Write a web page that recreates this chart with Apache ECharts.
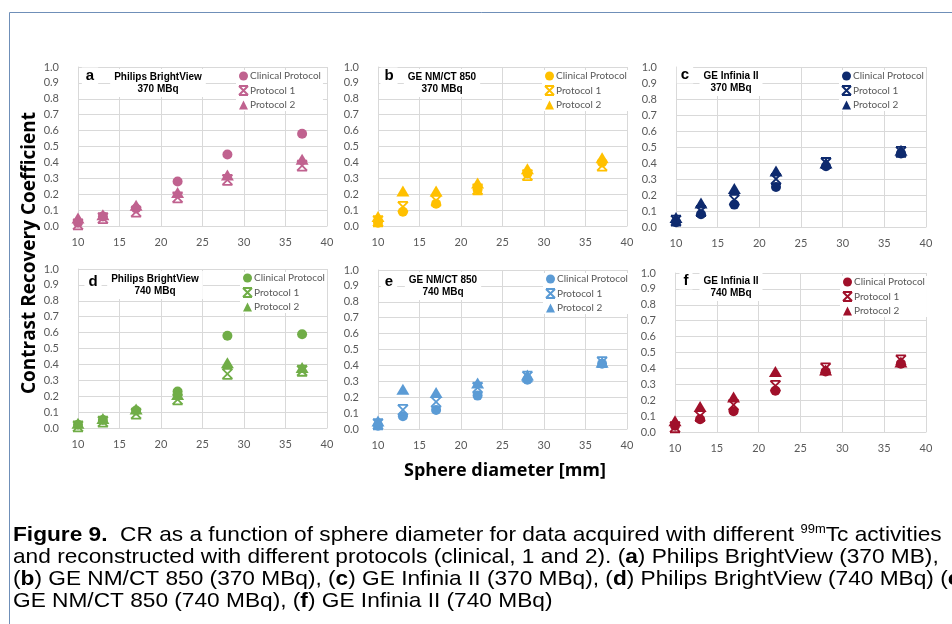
<!DOCTYPE html>
<html>
<head>
<meta charset="utf-8">
<script src="https://cdn.jsdelivr.net/npm/echarts@6/dist/echarts.min.js"></script>
<style>
  html, body { margin: 0; padding: 0; background: #fff; }
  #chart { width: 952px; height: 624px; }
</style>
</head>
<body>
<div id="chart"></div>
<script>
// sphere diameters (mm) shared by every panel
const diameters = [10, 13, 17, 22, 28, 37];
const protocols = ['Clinical Protocol', 'Protocol 1', 'Protocol 2'];

// contrast recovery coefficient
const aClinical = [0.02, 0.06, 0.11, 0.28, 0.45, 0.58];
const aProt1    = [0.01, 0.05, 0.09, 0.18, 0.29, 0.38];
const aProt2    = [0.05, 0.07, 0.13, 0.21, 0.32, 0.42];
const bClinical = [0.02, 0.09, 0.14, 0.23, 0.33, 0.40];
const bProt1    = [0.03, 0.12, 0.16, 0.23, 0.32, 0.38];
const bProt2    = [0.06, 0.22, 0.22, 0.27, 0.36, 0.43];
const cClinical = [0.03, 0.08, 0.14, 0.25, 0.38, 0.46];
const cProt1    = [0.04, 0.10, 0.17, 0.30, 0.40, 0.47];
const cProt2    = [0.06, 0.15, 0.24, 0.35, 0.40, 0.48];
const dClinical = [0.02, 0.05, 0.11, 0.23, 0.58, 0.59];
const dProt1    = [0.01, 0.04, 0.09, 0.18, 0.34, 0.36];
const dProt2    = [0.03, 0.06, 0.12, 0.21, 0.41, 0.38];
const eClinical = [0.02, 0.08, 0.12, 0.21, 0.31, 0.41];
const eProt1    = [0.03, 0.12, 0.17, 0.26, 0.33, 0.42];
const eProt2    = [0.05, 0.25, 0.23, 0.29, 0.34, 0.42];
const fClinical = [0.04, 0.08, 0.13, 0.26, 0.38, 0.43];
const fProt1    = [0.03, 0.10, 0.17, 0.29, 0.40, 0.45];
const fProt2    = [0.07, 0.16, 0.22, 0.38, 0.39, 0.44];

const panels = [
  { key: 'a', device: 'Philips BrightView', activity: '370 MBq', color: '#C0628F',
    values: [aClinical, aProt1, aProt2],
    grid: { left: 78, top: 67, width: 249, height: 159 }, legend: [236, 70], letter: [90, 76], title: [158, 83] },
  { key: 'b', device: 'GE NM/CT 850', activity: '370 MBq', color: '#FFC000',
    values: [bClinical, bProt1, bProt2],
    grid: { left: 378, top: 67, width: 249, height: 159 }, legend: [542, 70], letter: [389, 76], title: [442, 83] },
  { key: 'c', device: 'GE Infinia II', activity: '370 MBq', color: '#0E2A6E',
    values: [cClinical, cProt1, cProt2],
    grid: { left: 676, top: 67, width: 250, height: 160 }, legend: [839, 70], letter: [685, 75], title: [731, 82] },
  { key: 'd', device: 'Philips BrightView', activity: '740 MBq', color: '#70AD47',
    values: [dClinical, dProt1, dProt2],
    grid: { left: 78, top: 269, width: 249, height: 159 }, legend: [240, 272], letter: [93, 282], title: [155, 285] },
  { key: 'e', device: 'GE NM/CT 850', activity: '740 MBq', color: '#5B9BD5',
    values: [eClinical, eProt1, eProt2],
    grid: { left: 378, top: 270, width: 249, height: 159 }, legend: [543, 273], letter: [389, 282], title: [443, 286] },
  { key: 'f', device: 'GE Infinia II', activity: '740 MBq', color: '#A0102A',
    values: [fClinical, fProt1, fProt2],
    grid: { left: 675, top: 273, width: 251, height: 159 }, legend: [840, 276], letter: [686, 281], title: [731, 287] }
];

// Excel style "x with bars" marker
const xMark = 'path://M0,0 L10,0 M0,10 L10,10 M0,0 L10,10 M10,0 L0,10';
const symbols = ['circle', xMark, 'triangle'];
const sizes = [10, 10, [13, 11]];

const gridLine = '#D9D9D9';
const tickFont = { color: '#595959', fontSize: 11, fontFamily: 'Lato' };

const grids = [], xAxes = [], yAxes = [], series = [], legends = [], texts = [];

panels.forEach(function (p, i) {
  grids.push(p.grid);
  xAxes.push({
    gridIndex: i, type: 'value', min: 10, max: 40, interval: 5,
    axisLine: { show: true, lineStyle: { color: gridLine } },
    axisTick: { show: false },
    splitLine: { lineStyle: { color: gridLine } },
    axisLabel: Object.assign({ margin: 11 }, tickFont)
  });
  yAxes.push({
    gridIndex: i, type: 'value', min: 0, max: 1, interval: 0.1,
    axisLine: { show: true, lineStyle: { color: gridLine } },
    axisTick: { show: false },
    splitLine: { lineStyle: { color: gridLine } },
    axisLabel: Object.assign({ margin: 19, formatter: function (v) { return v.toFixed(1); } }, tickFont)
  });
  protocols.forEach(function (name, k) {
    series.push({
      type: 'scatter',
      name: p.key + ':' + name,
      xAxisIndex: i, yAxisIndex: i,
      data: diameters.map(function (d, j) { return [d, p.values[k][j]]; }),
      symbol: symbols[k],
      symbolSize: sizes[k],
      itemStyle: { color: p.color, borderColor: p.color, borderWidth: k === 1 ? 1.8 : 0, opacity: 1 }
    });
  });
  legends.push({
    orient: 'vertical',
    left: p.legend[0], top: p.legend[1],
    padding: [1, 2],
    itemGap: 4,
    itemWidth: 9, itemHeight: 9,
    backgroundColor: '#fff',
    selectedMode: false,
    textStyle: { color: '#595959', fontSize: 10, fontFamily: 'Lato', padding: [0, 0, 0, -3] },
    formatter: function (n) { return n.slice(2); },
    data: protocols.map(function (n) { return p.key + ':' + n; })
  });
  texts.push({
    type: 'text', z: 100,
    style: {
      x: p.letter[0], y: p.letter[1], text: p.key,
      font: 'bold 15px "Liberation Sans", Arial, sans-serif', fill: '#000',
      textAlign: 'center', textVerticalAlign: 'middle',
      backgroundColor: '#fff', padding: [1, 4]
    }
  });
  texts.push({
    type: 'text', z: 100,
    style: {
      x: p.title[0], y: p.title[1], text: p.device + '\n' + p.activity,
      font: 'bold 10px "Liberation Sans", Arial, sans-serif', fill: '#000',
      lineHeight: 12,
      textAlign: 'center', textVerticalAlign: 'middle',
      backgroundColor: '#fff', padding: [2, 4]
    }
  });
});

// outer frame
texts.push({
  type: 'rect', z: 0, silent: true,
  shape: { x: 9.5, y: 12.5, width: 960, height: 640 },
  style: { fill: 'none', stroke: '#6F8FB8', lineWidth: 1 }
});
// shared axis titles
texts.push({
  type: 'text', z: 100, x: 30, y: 253, rotation: Math.PI / 2,
  style: {
    text: 'Contrast Recovery Coefficient',
    font: 'bold 19px "Open Sans", sans-serif', fill: '#000',
    textAlign: 'center', textVerticalAlign: 'middle'
  }
});
texts.push({
  type: 'text', z: 100,
  style: {
    x: 505, y: 471, text: 'Sphere diameter [mm]',
    font: 'bold 18px "Open Sans", sans-serif', fill: '#000',
    textAlign: 'center', textVerticalAlign: 'middle'
  }
});
// figure caption (stretched a little to match the original line length)
const capFont = '"Liberation Sans", Arial, sans-serif';
texts.push({
  type: 'text', z: 100, x: 13, y: 524, scaleX: 1.08,
  style: {
    x: 0, y: 0,
    text: '{b|Figure 9.}  CR as a function of sphere diameter for data acquired with different {sup|99m}Tc activities\n' +
      'and reconstructed with different protocols (clinical, 1 and 2). ({b|a}) Philips BrightView (370 MB),\n' +
      '({b|b}) GE NM/CT 850 (370 MBq), ({b|c}) GE Infinia II (370 MBq), ({b|d}) Philips BrightView (740 MBq) ({b|e})\n' +
      'GE NM/CT 850 (740 MBq), ({b|f}) GE Infinia II (740 MBq)',
    font: '21px ' + capFont,
    fill: '#000', lineHeight: 22,
    textAlign: 'left', textVerticalAlign: 'top',
    rich: {
      b: { fontWeight: 'bold', fontSize: 21, fontFamily: capFont, lineHeight: 22 },
      sup: { fontSize: 12, fontFamily: capFont, lineHeight: 12, verticalAlign: 'top' }
    }
  }
});

const chart = echarts.init(document.getElementById('chart'), null, { renderer: 'canvas' });
chart.setOption({
  animation: false,
  backgroundColor: '#fff',
  grid: grids,
  xAxis: xAxes,
  yAxis: yAxes,
  legend: legends,
  series: series,
  graphic: texts
});
</script>
</body>
</html>
